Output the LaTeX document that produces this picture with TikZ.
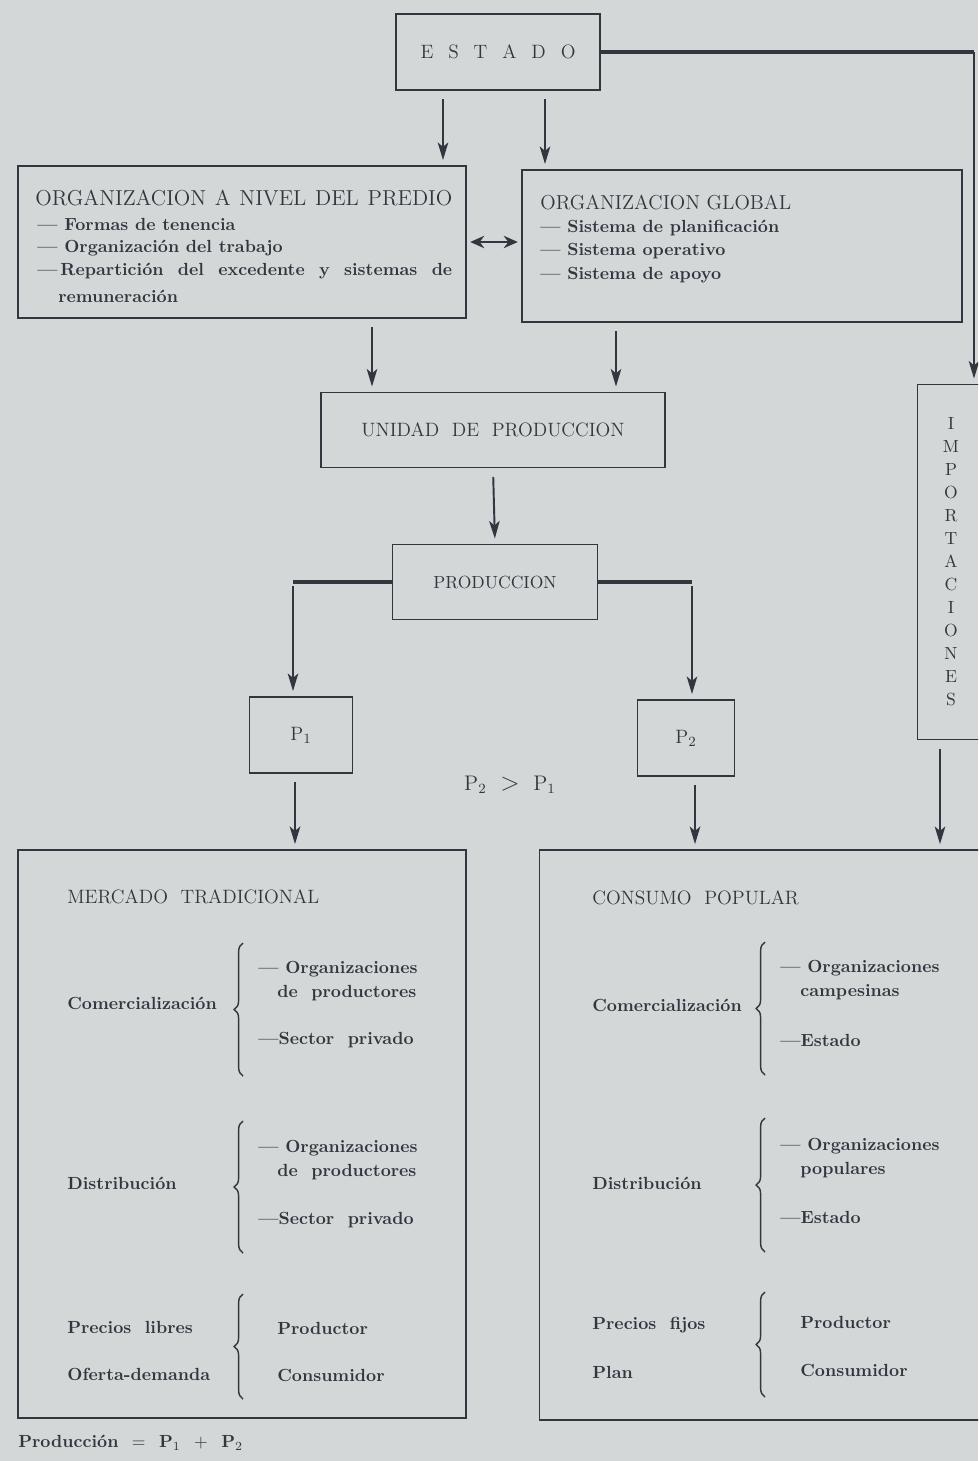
\documentclass[tikz,border=0pt]{standalone}
\usepackage{tikz}
\usetikzlibrary{arrows.meta,decorations.pathreplacing}
\definecolor{paper}{HTML}{D3D7D7}
\definecolor{ink}{HTML}{33363F}

\begin{document}
\begin{tikzpicture}[x=0.02cm,y=-0.02cm,color=ink,
    box/.style={draw,line width=0.8pt,inner sep=0pt},
    arr/.style={-{Stealth[length=10pt,width=6pt,inset=2.5pt]},line width=1.1pt,shorten <=5pt,shorten >=3pt},
    feed/.style={line width=1.8pt},
    head/.style={font=\fontsize{11}{13}\selectfont,anchor=west,inner sep=0pt},
    item/.style={font=\fontsize{10}{12}\selectfont\bfseries,anchor=west,inner sep=0pt},
    brc/.style={decorate,decoration={brace,amplitude=5pt},line width=0.8pt}]
        \fill[paper] (0,0) rectangle (978,1461);
        \clip (0,0) rectangle (978,1461);
        \node[box, minimum width=4.08cm, minimum height=1.52cm, font=\fontsize{11}{13}\selectfont] (estado) at (498,52) {\makebox[3.1cm][s]{E S T A D O}};
        \node[box, minimum width=8.96cm, minimum height=3.04cm] (predio) at (242,242) {};
        \node[box, minimum width=8.8cm, minimum height=3.04cm] (global) at (742,246) {};
        \node[box, minimum width=6.88cm, minimum height=1.5cm, font=\fontsize{11}{13}\selectfont] (unidad) at (493,430) {UNIDAD\ \ DE\ \ PRODUCCION};
        \node[box, minimum width=4.1cm, minimum height=1.5cm, font=\fontsize{10}{12}\selectfont] (prod) at (495,582) {PRODUCCION};
        \node[box, minimum width=2.06cm, minimum height=1.52cm, font=\fontsize{11}{13}\selectfont] (p1) at (301,735) {P$_1$};
        \node[box, minimum width=1.94cm, minimum height=1.52cm, font=\fontsize{11}{13}\selectfont] (p2) at (686,738) {P$_2$};
        \node[box, minimum width=1.34cm, minimum height=7.1cm, align=center, font=\fontsize{10}{13.1}\selectfont] (impo) at (951,562) {I\\M\\P\\O\\R\\T\\A\\C\\I\\O\\N\\E\\S};
        \node[box, minimum width=8.96cm, minimum height=11.36cm] (merc) at (242,1134) {};
        \node[box, minimum width=8.9cm, minimum height=11.4cm] (cons) at (762,1135) {};

        \node[head, font=\fontsize{12.3}{14}\selectfont] (predio-t) at (35,198) {\makebox[8.34cm][s]{ORGANIZACION A NIVEL DEL PREDIO}};
        \node[item] (predio-a) at (37,224) {--- Formas de tenencia};
        \node[item] (predio-b) at (37,248) {--- Organización del trabajo};
        \node[item] (predio-c) at (37,271) {\makebox[8.3cm][s]{---\,Repartición del excedente y sistemas de}};
        \node[item] (predio-d) at (58,296) {remuneración};
        \node[head, font=\fontsize{11.5}{13}\selectfont] (global-t) at (540,202) {ORGANIZACION GLOBAL};
        \node[item] (global-a) at (540,228) {--- Sistema de planificación};
        \node[item] (global-b) at (540,251) {--- Sistema operativo};
        \node[item] (global-c) at (540,275) {--- Sistema de apoyo};

        \node[font=\fontsize{12}{14}\selectfont] (pcomp) at (510,785) {P$_2$ \ {\Large$>$}\ \ P$_1$};

        \node[head] (merc-t) at (67,897) {MERCADO\ \ TRADICIONAL};
        \node[item] (merc-com) at (67,1003) {Comercialización};
        \node[item] (merc-com-a) at (258,969) {--- Organizaciones};
        \node[item] (merc-com-b) at (277,993) {de\ \ productores};
        \node[item] (merc-com-c) at (258,1040) {---Sector\ \ privado};
        \node[item] (merc-dis) at (67,1183) {Distribución};
        \node[item] (merc-dis-a) at (258,1148) {--- Organizaciones};
        \node[item] (merc-dis-b) at (277,1172) {de\ \ productores};
        \node[item] (merc-dis-c) at (258,1220) {---Sector\ \ privado};
        \node[item] (merc-pre) at (67,1327) {Precios\ \ libres};
        \node[item] (merc-ofe) at (67,1374) {Oferta-demanda};
        \node[item] (merc-pro) at (277,1328) {Productor};
        \node[item] (merc-con) at (277,1375) {Consumidor};
        \draw[brc] (243,1076) -- (243,943);
        \draw[brc] (243,1253) -- (243,1121);
        \draw[brc] (243,1399) -- (243,1294);

        \node[head] (cons-t) at (592,898) {CONSUMO\ \ POPULAR};
        \node[item] (cons-com) at (592,1005) {Comercialización};
        \node[item] (cons-com-a) at (780,968) {--- Organizaciones};
        \node[item] (cons-com-b) at (800,992) {campesinas};
        \node[item] (cons-com-c) at (780,1040) {---Estado};
        \node[item] (cons-dis) at (592,1183) {Distribución};
        \node[item] (cons-dis-a) at (780,1146) {--- Organizaciones};
        \node[item] (cons-dis-b) at (800,1170) {populares};
        \node[item] (cons-dis-c) at (780,1217) {---Estado};
        \node[item] (cons-pre) at (592,1325) {Precios\ \ fijos};
        \node[item] (cons-pla) at (592,1372) {Plan};
        \node[item] (cons-pro) at (800,1322) {Productor};
        \node[item] (cons-con) at (800,1370) {Consumidor};
        \draw[brc] (765,1075) -- (765,942);
        \draw[brc] (765,1252) -- (765,1118);
        \draw[brc] (765,1397) -- (765,1292);

        \node[item] (formula) at (18,1443) {Producción\ \ $=$\ \ P$_1$\ \ $+$\ \ P$_2$};

        \coordinate (a1) at (443,0); \coordinate (a2) at (545,0); \coordinate (a3) at (974,0);
        \coordinate (b1) at (372,0); \coordinate (b2) at (616,0);
        \coordinate (c1) at (293,0); \coordinate (c2) at (692,0);
        \coordinate (d1) at (295,0); \coordinate (d2) at (695,0); \coordinate (d3) at (940,0);
        \draw[arr] (estado.south -| a1) -- (predio.north -| a1);
        \draw[arr] (estado.south -| a2) -- (global.north -| a2);
        \draw[feed] (estado.east) -- (estado.east -| a3);
        \draw[arr,shorten <=0pt] (estado.east -| a3) -- (impo.north -| a3);
        \draw[{Stealth[length=8pt,width=7pt]}-{Stealth[length=8pt,width=7pt]},line width=1.6pt,shorten <=2pt,shorten >=2pt] (predio.east) -- (predio.east -| global.west);
        \draw[arr] (predio.south -| b1) -- (unidad.north -| b1);
        \draw[arr] (global.south -| b2) -- (unidad.north -| b2);
        \draw[arr] (unidad.south) -- (prod.north);
        \draw[feed] (prod.west) -- (prod.west -| c1);
        \draw[feed] (prod.east) -- (prod.east -| c2);
        \draw[arr,shorten <=2pt] (prod.west -| c1) -- (p1.north -| c1);
        \draw[arr,shorten <=2pt] (prod.east -| c2) -- (p2.north -| c2);
        \draw[arr] (p1.south -| d1) -- (merc.north -| d1);
        \draw[arr] (p2.south -| d2) -- (cons.north -| d2);
        \draw[arr] (impo.south -| d3) -- (cons.north -| d3);
\end{tikzpicture}
\end{document}
